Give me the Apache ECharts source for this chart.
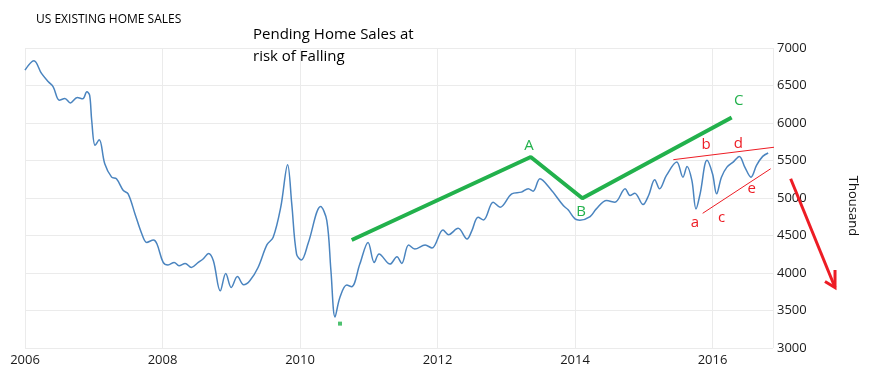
<!DOCTYPE html>
<html><head><meta charset="utf-8">
<script src="https://cdn.jsdelivr.net/npm/echarts@6/dist/echarts.min.js"></script>
<style>html,body{margin:0;padding:0;background:#fff}#c{width:874px;height:379px}</style>
</head><body><div id="c"></div>
<script>
// Time in fractional years, sales in thousands (SAAR)
const years = [2006.00,2006.13,2006.24,2006.34,2006.41,2006.50,2006.58,2006.66,2006.76,2006.84,2006.90,2006.94,2006.97,2007.02,2007.08,2007.16,2007.26,2007.33,2007.43,2007.50,2007.60,2007.70,2007.77,2007.87,2007.92,2008.01,2008.08,2008.17,2008.24,2008.33,2008.42,2008.52,2008.59,2008.67,2008.74,2008.84,2008.92,2009.00,2009.09,2009.18,2009.27,2009.39,2009.52,2009.61,2009.72,2009.82,2009.88,2009.95,2010.02,2010.12,2010.30,2010.39,2010.45,2010.51,2010.58,2010.68,2010.75,2010.87,2010.99,2011.08,2011.15,2011.31,2011.41,2011.48,2011.58,2011.67,2011.82,2011.92,2012.08,2012.16,2012.30,2012.43,2012.50,2012.59,2012.67,2012.81,2012.91,2013.08,2013.22,2013.32,2013.39,2013.49,2013.64,2013.83,2013.90,2014.00,2014.07,2014.22,2014.31,2014.46,2014.58,2014.73,2014.80,2014.87,2014.99,2015.07,2015.16,2015.23,2015.33,2015.48,2015.57,2015.63,2015.70,2015.76,2015.82,2015.92,2016.00,2016.06,2016.13,2016.21,2016.30,2016.39,2016.47,2016.56,2016.64,2016.73,2016.81];
const sales = [6706,6830,6661,6550,6483,6304,6327,6268,6340,6322,6416,6371,6037,5702,5778,5457,5278,5256,5100,5056,4788,4520,4408,4440,4387,4141,4106,4141,4097,4128,4074,4141,4186,4261,4163,3762,3994,3807,3953,3842,3896,4074,4378,4476,4877,5444,4922,4253,4173,4400,4886,4699,4030,3414,3673,3839,3816,4119,4408,4141,4253,4119,4217,4128,4373,4320,4373,4333,4574,4511,4596,4454,4565,4743,4708,4944,4877,5056,5078,5123,5091,5257,5123,4899,4842,4721,4705,4752,4855,4966,4944,5123,5034,5065,4913,5034,5243,5123,5301,5479,5278,5421,5234,4855,5056,5502,5323,5056,5278,5412,5479,5555,5412,5278,5435,5555,5600];
const yearLabels = [2006, 2008, 2010, 2012, 2014, 2016];

// Annotations (data coordinates)
const waveABC = [[2010.752,4440],[2013.356,5546],[2014.107,4997],[2016.279,6073]];
const greenDot = [[2010.582,3325]];
const greenLetters = [['A',2013.33,5700],['B',2014.09,4820],['C',2016.38,6300]];
const redUpper = [[2015.43,5511],[2016.924,5680]];
const redLower = [[2015.857,4796],[2016.846,5390]];
const redLetters = [['a',2015.745,4670],['b',2015.905,5715],['c',2016.134,4735],['d',2016.376,5728],['e',2016.57,5118]];
const arrowShaft = [[2017.137,5257],[2017.782,3806]];
const arrowHead = [[2017.636,3887],[2017.782,3806],[2017.782,4040]];

const chart = echarts.init(document.getElementById('c'));
const FONT = 'Open Sans';
const GREEN = '#22b14c', RED = '#ed1c24';
function lineSeries(data, color, width){
  return {type:'line', data:data, showSymbol:false, clip:false, silent:true, z:5,
    lineStyle:{color:color, width:width}};
}
chart.setOption({
  animation:false,
  title:{text:'US EXISTING HOME SALES', left:31, top:9,
    textStyle:{fontSize:12, fontWeight:'normal', color:'#000', fontFamily:FONT}},
  grid:{left:25, right:101, top:48, bottom:31, containLabel:false},
  xAxis:{type:'value', min:2006, max:2016.88, interval:2,
    axisLine:{show:false}, axisTick:{show:false},
    splitLine:{show:true, lineStyle:{color:'#ebebeb'}},
    axisLabel:{margin:6, color:'#1a1a1a', fontSize:13, fontFamily:FONT, showMaxLabel:false,
      formatter:v=> yearLabels.includes(v) ? String(v) : ''}},
  yAxis:{type:'value', position:'right', min:3000, max:7000, interval:500,
    axisLine:{show:false}, axisTick:{show:false},
    splitLine:{lineStyle:{color:'#ebebeb'}},
    axisLabel:{margin:4, color:'#1a1a1a', fontSize:13, fontFamily:FONT, formatter:v=>String(v)}},
  series:[
    {type:'line', data:years.map((y,i)=>[y,sales[i]]), smooth:0.35, showSymbol:false, silent:true,
      lineStyle:{color:'#4a84bf', width:1.5}, z:3},
    lineSeries(waveABC, GREEN, 4),
    {type:'scatter', data:greenDot, symbol:'rect', symbolSize:4, itemStyle:{color:GREEN}, silent:true},
    lineSeries(redUpper, RED, 1),
    lineSeries(redLower, RED, 1)
  ]
});
const px = p => chart.convertToPixel({gridIndex:0}, p);
const g = [
  {type:'text', left:253, top:24, style:{text:'Pending Home Sales at\nrisk of Falling', fontSize:15, lineHeight:22, fill:'#000', fontFamily:FONT}},
  {type:'text', x:853, y:206, rotation:-Math.PI/2, style:{text:'Thousand', fontSize:13, fill:'#111', fontFamily:FONT, align:'center', verticalAlign:'middle'}},
  {type:'polyline', shape:{points:arrowShaft.map(px)}, style:{stroke:RED, lineWidth:3, fill:null}, z:20},
  {type:'polyline', shape:{points:arrowHead.map(px)}, style:{stroke:RED, lineWidth:3, fill:null}, z:20}
];
greenLetters.concat(redLetters).forEach(d=>{
  const p = px([d[1], d[2]]);
  const isGreen = greenLetters.includes(d);
  g.push({type:'text', x:p[0], y:p[1], z:20, style:{text:d[0], fontSize:15, fontFamily:FONT,
    fill:isGreen?GREEN:RED, align:'center', verticalAlign:'middle'}});
});
chart.setOption({graphic:g});
</script></body></html>
